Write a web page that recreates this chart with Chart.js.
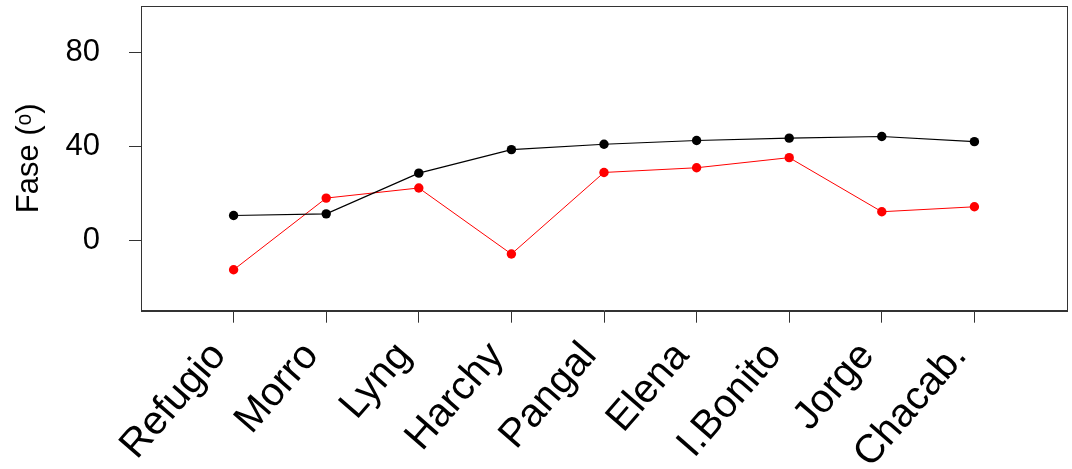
<!DOCTYPE html>
<html>
<head>
<meta charset="utf-8">
<title>Fase</title>
<script src="https://cdn.jsdelivr.net/npm/chart.js@4/dist/chart.umd.min.js"></script>
<style>
  html, body { margin: 0; padding: 0; background: #ffffff; }
  #wrap { width: 1072px; height: 469px; }
</style>
</head>
<body>
<div id="wrap"><canvas id="c" width="1072" height="469"></canvas></div>
<script>
// Sites along the coast, west to east
const categories = ['Refugio', 'Morro', 'Lyng', 'Harchy', 'Pangal', 'Elena', 'I.Bonito', 'Jorge', 'Chacab.'];

// Phase (degrees) of the two components at each site
const faseNegra = [10.7, 11.4, 28.7, 38.7, 41.0, 42.6, 43.6, 44.3, 42.1];
const faseRoja  = [-12.4, 18.1, 22.4, -5.7, 29.0, 31.0, 35.3, 12.3, 14.4];

// Y axis ticks and limits
const yTicks = [0, 40, 80];
const yMin = -29.8, yMax = 99.8;

const FONT = '"Liberation Sans", Arial, Helvetica, sans-serif';

const toPoints = vals => vals.map((v, i) => ({ x: i + 1, y: v }));

// Closed frame around the plotting region
const framePlugin = {
  id: 'frame',
  afterDraw(chart) {
    const { ctx, chartArea: a } = chart;
    ctx.save();
    ctx.strokeStyle = '#333333';
    ctx.lineWidth = 1;
    ctx.strokeRect(Math.round(a.left) + 0.5, Math.round(a.top) + 0.5,
                   Math.round(a.right - a.left), Math.round(a.bottom - a.top));
    ctx.restore();
  }
};

// Keep the plotting region fixed: no extra room reserved for overhanging labels
const noOverhang = scale => {
  scale.paddingTop = 0;
  scale.paddingBottom = 0;
  scale.paddingLeft = 0;
  scale.paddingRight = 0;
};

new Chart(document.getElementById('c'), {
  type: 'line',
  data: {
    datasets: [
      {
        data: toPoints(faseNegra),
        borderColor: '#000000',
        backgroundColor: '#000000',
        borderWidth: 1.2,
        pointRadius: 4.7,
        pointBorderWidth: 0,
        pointBackgroundColor: '#000000',
        tension: 0
      },
      {
        data: toPoints(faseRoja),
        borderColor: '#ff0000',
        backgroundColor: '#ff0000',
        borderWidth: 1,
        pointRadius: 4.7,
        pointBorderWidth: 0,
        pointBackgroundColor: '#ff0000',
        tension: 0
      }
    ]
  },
  options: {
    responsive: false,
    animation: false,
    devicePixelRatio: 1,
    layout: { padding: { top: 6, right: 5, left: 0, bottom: 0 } },
    plugins: {
      legend: { display: false },
      tooltip: { enabled: false }
    },
    scales: {
      x: {
        type: 'linear',
        min: 0,
        max: 10,
        afterBuildTicks(scale) {
          scale.ticks = categories.map((_, i) => ({ value: i + 1 }));
        },
        afterFit(scale) {
          scale.height = 158.3;
          noOverhang(scale);
        },
        grid: {
          drawOnChartArea: false,
          drawTicks: true,
          tickLength: 12,
          tickColor: '#333333',
          tickWidth: 1
        },
        border: { display: true, color: '#333333', width: 1 },
        ticks: {
          autoSkip: false,
          minRotation: 49,
          maxRotation: 49,
          padding: 10.6,
          labelOffset: -14.6,
          color: '#000000',
          font: { family: FONT, size: 40 },
          callback: v => categories[v - 1] ?? ''
        }
      },
      y: {
        min: yMin,
        max: yMax,
        afterBuildTicks(scale) {
          scale.ticks = yTicks.map(v => ({ value: v }));
        },
        afterFit(scale) {
          scale.width = 141;
          noOverhang(scale);
        },
        grid: {
          drawOnChartArea: false,
          drawTicks: true,
          tickLength: 12,
          tickColor: '#333333',
          tickWidth: 1
        },
        border: { display: true, color: '#333333', width: 1 },
        ticks: {
          padding: 29,
          color: '#000000',
          font: { family: FONT, size: 31 }
        },
        title: {
          display: true,
          text: 'Fase (\u1D52)',
          color: '#000000',
          font: { family: FONT, size: 31 },
          padding: { top: 11, bottom: 0 }
        }
      }
    }
  },
  plugins: [framePlugin]
});
</script>
</body>
</html>
